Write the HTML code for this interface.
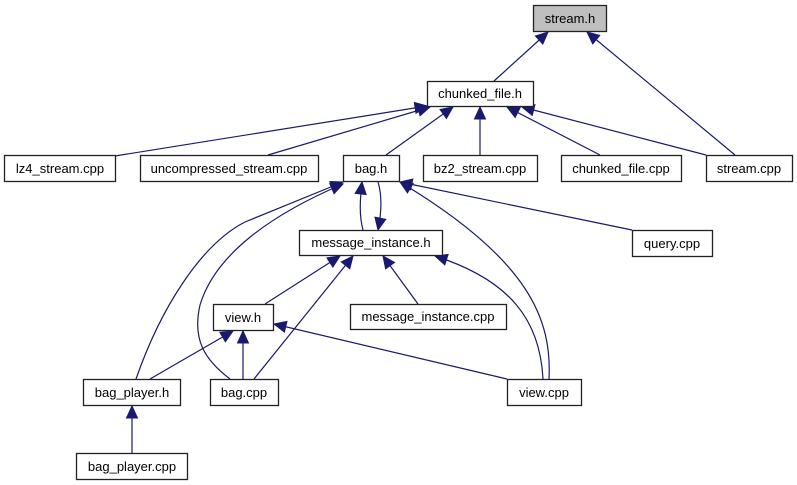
<!DOCTYPE html>
<html><head><meta charset="utf-8"><style>
html,body{margin:0;padding:0;background:#fff;}
svg{display:block;}
text{font-family:"Liberation Sans",sans-serif;font-size:13px;fill:#000;}
</style></head><body>
<svg width="797" height="485" viewBox="0 0 797 485" xmlns="http://www.w3.org/2000/svg">
<defs>
<marker id="a" markerUnits="userSpaceOnUse" markerWidth="14" markerHeight="12" refX="12" refY="5.5" orient="auto" overflow="visible">
<polygon points="0,0 12,5.5 0,11" fill="#191970" stroke="#191970" stroke-width="1"/>
</marker>
</defs>
<g fill="none" stroke="#191970" stroke-width="1.2" marker-end="url(#a)">
<path d="M494,81 L548,32"/>
<path d="M735,155 L587,32"/>
<path d="M115,156 L427,106"/>
<path d="M268,155 L430,107"/>
<path d="M386,155 L453,107"/>
<path d="M480,155 L480,107"/>
<path d="M600,155 L507,107"/>
<path d="M706,155 L522,107"/>
<path d="M363,230 C359,215 360,200 362,182"/>
<path d="M378,182 C382,195 382,210 378,230"/>
<path d="M136,379 C160,310 200,245 245,222 L343,182"/>
<path d="M230,379 C205,360 192,340 200,305 C215,255 270,215 343,184"/>
<path d="M632,230 L400,182"/>
<path d="M549,379 C552,320 530,260 400,182"/>
<path d="M265,304 L340,256"/>
<path d="M254,379 L353,256"/>
<path d="M418,304 L383,256"/>
<path d="M543,379 C540,320 510,280 435,256"/>
<path d="M150,379 L233,331"/>
<path d="M243,379 L243,331"/>
<path d="M507,379 L274,324"/>
<path d="M132,453 L132,406"/>
</g>
<g stroke="#222" stroke-width="1.3" fill="#fff">
<rect x="533.5" y="5.5" width="73" height="26" fill="#bfbfbf"/>
<rect x="427.5" y="81.5" width="106" height="25"/>
<rect x="4.5" y="155.5" width="111" height="26"/>
<rect x="140.5" y="155.5" width="178" height="26"/>
<rect x="343.5" y="155.5" width="56" height="26"/>
<rect x="423.5" y="155.5" width="114" height="26"/>
<rect x="561.5" y="155.5" width="120" height="26"/>
<rect x="706.5" y="155.5" width="86" height="26"/>
<rect x="299.5" y="230.5" width="143" height="25"/>
<rect x="632.5" y="230.5" width="80" height="26"/>
<rect x="213.5" y="304.5" width="60" height="26"/>
<rect x="350.5" y="304.5" width="156" height="25"/>
<rect x="83.5" y="379.5" width="97" height="26"/>
<rect x="210.5" y="379.5" width="68" height="26"/>
<rect x="507.5" y="379.5" width="74" height="26"/>
<rect x="76.5" y="453.5" width="111" height="26"/>
</g>
<g text-anchor="middle">
<text x="570" y="23">stream.h</text>
<text x="480" y="98">chunked_file.h</text>
<text x="60" y="173">lz4_stream.cpp</text>
<text x="229" y="173">uncompressed_stream.cpp</text>
<text x="371" y="173">bag.h</text>
<text x="480" y="173">bz2_stream.cpp</text>
<text x="621" y="173">chunked_file.cpp</text>
<text x="749" y="173">stream.cpp</text>
<text x="371" y="247">message_instance.h</text>
<text x="672" y="248">query.cpp</text>
<text x="243" y="322">view.h</text>
<text x="428" y="321">message_instance.cpp</text>
<text x="132" y="397">bag_player.h</text>
<text x="244" y="397">bag.cpp</text>
<text x="544" y="397">view.cpp</text>
<text x="132" y="471">bag_player.cpp</text>
</g>
</svg>
</body></html>
